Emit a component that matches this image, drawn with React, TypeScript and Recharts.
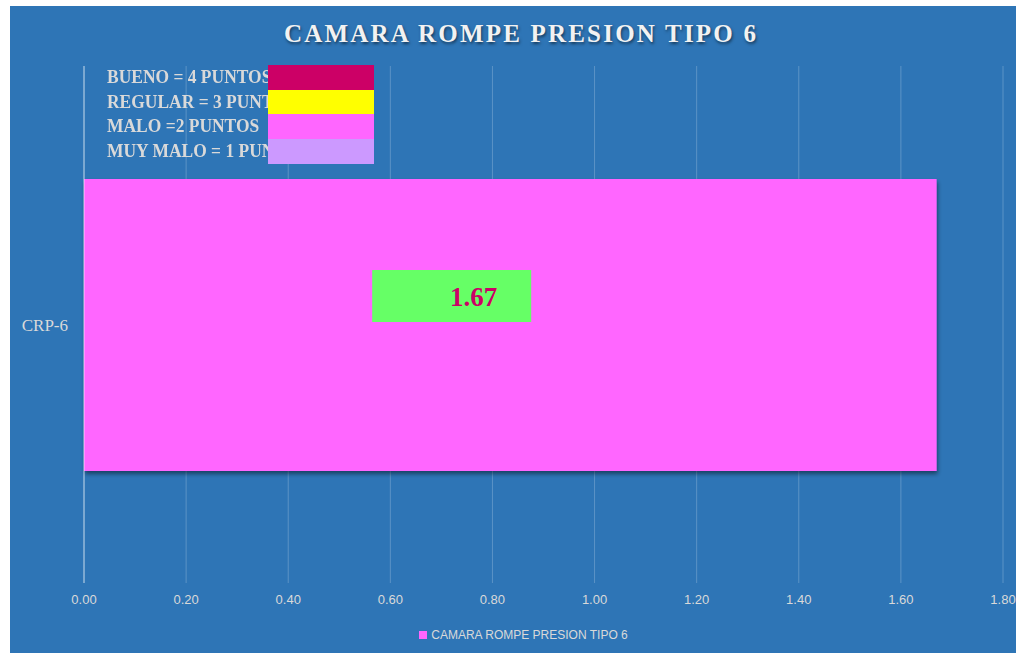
import React from "react";
import {
  BarChart,
  Bar,
  XAxis,
  YAxis,
  CartesianGrid,
  Legend,
  LabelList,
} from "recharts";

const categories = ["CRP-6"];
const seriesName = "CAMARA ROMPE PRESION TIPO 6";
const scores = [1.67];
const xTicks = [0, 0.2, 0.4, 0.6, 0.8, 1.0, 1.2, 1.4, 1.6, 1.8];

const ratingLabels = [
  "BUENO = 4 PUNTOS",
  "REGULAR = 3 PUNTOS",
  "MALO =2 PUNTOS",
  "MUY MALO = 1 PUNTO",
];
const ratingColors = ["#CC0066", "#FFFF00", "#FF66FF", "#CC99FF"];

const data = categories.map((name, i) => ({ name, score: scores[i] }));

const BG = "#2E75B6";
const TEXT = "#D9D9D9";
const BAR = "#FF66FF";

// green data label box, placed inside the bar left of centre
const ScoreLabel = (props: any) => {
  const { x, y, width, height, value } = props;
  const boxW = 159;
  const boxH = 52;
  const bx = x + width * 0.338;
  const by = y + height / 2 - 29 - boxH / 2;
  return (
    <g>
      <rect x={bx} y={by} width={boxW} height={boxH} fill="#66FF66" />
      <text
        x={x + width * 0.457}
        y={by + boxH / 2 + 1}
        textAnchor="middle"
        dominantBaseline="central"
        fontFamily="'Liberation Serif', 'Times New Roman', serif"
        fontWeight="bold"
        fontSize={27}
        fill="#CC0066"
      >
        {Number(value).toFixed(2)}
      </text>
    </g>
  );
};

const ShadowBar = (props: any) => {
  const { x, y, width, height, fill } = props;
  return (
    <rect x={x} y={y} width={width} height={height} fill={fill} filter="url(#barShadow)" />
  );
};

const BottomLegend = () => (
  <div
    style={{
      display: "flex",
      justifyContent: "center",
      alignItems: "center",
      fontFamily: "'Liberation Sans', Arial, sans-serif",
      fontSize: 12,
      color: TEXT,
      paddingLeft: 34,
      paddingTop: 5,
    }}
  >
    <span
      style={{ width: 8, height: 8, background: BAR, display: "inline-block", marginRight: 4 }}
    />
    {seriesName}
  </div>
);

export default function App() {
  return (
    <div
      style={{
        position: "absolute",
        left: 0,
        top: 0,
        width: 1016,
        height: 653,
        background: "#ffffff",
      }}
    >
      <div
        style={{
          position: "absolute",
          left: 10,
          top: 6,
          width: 1006,
          height: 647,
          background: BG,
        }}
      >
        <BarChart
          width={1006}
          height={647}
          data={data}
          layout="vertical"
          margin={{ top: 60, right: 13, bottom: 8, left: 0 }}
          barCategoryGap={112}
        >
          <defs>
            <filter id="barShadow" x="-5%" y="-5%" width="110%" height="115%">
              <feDropShadow dx="1" dy="3" stdDeviation="2" floodColor="#000" floodOpacity="0.45" />
            </filter>
          </defs>
          <CartesianGrid
            horizontal={false}
            stroke="rgba(255,255,255,0.22)"
            strokeWidth={1}
          />
          <XAxis
            type="number"
            domain={[0, 1.8]}
            ticks={xTicks}
            tickFormatter={(v: number) => v.toFixed(2)}
            axisLine={false}
            tickLine={false}
            tickMargin={6}
            height={32}
            interval={0}
            tick={{
              fill: TEXT,
              fontSize: 13,
              fontFamily: "'Liberation Sans', Arial, sans-serif",
            }}
          />
          <YAxis
            type="category"
            dataKey="name"
            width={74}
            axisLine={{ stroke: "rgba(255,255,255,0.6)" }}
            tickLine={false}
            tickMargin={10}
            tick={{
              fill: TEXT,
              fontSize: 17,
              fontFamily: "'Liberation Serif', 'Times New Roman', serif",
            }}
          />
          <Legend
            verticalAlign="bottom"
            wrapperStyle={{ height: 30, lineHeight: "30px" }}
            content={<BottomLegend />}
          />
          <Bar
            dataKey="score"
            name={seriesName}
            fill={BAR}
            barSize={292}
            shape={<ShadowBar />}
            isAnimationActive={false}
          >
            <LabelList dataKey="score" content={<ScoreLabel />} />
          </Bar>
        </BarChart>

        <div
          style={{
            position: "absolute",
            left: 0,
            top: 14,
            width: 1022,
            textAlign: "center",
            fontFamily: "'Liberation Serif', 'Times New Roman', serif",
            fontWeight: "bold",
            fontSize: 25,
            letterSpacing: 2.2,
            color: "#F2F2F2",
            textShadow: "1px 2px 3px rgba(0,0,0,0.5)",
            lineHeight: "28px",
          }}
        >
          {seriesName}
        </div>

        {ratingLabels.map((label, i) => (
          <div
            key={label}
            style={{
              position: "absolute",
              left: 97,
              top: 59 + i * 24.5,
              height: 24,
              lineHeight: "24px",
              fontFamily: "'Liberation Serif', 'Times New Roman', serif",
              fontWeight: "bold",
              fontSize: 18,
              color: TEXT,
              whiteSpace: "nowrap",
              transform: "scaleX(0.97)",
              transformOrigin: "left center",
            }}
          >
            {label}
          </div>
        ))}
        {ratingColors.map((c, i) => (
          <div
            key={c}
            style={{
              position: "absolute",
              left: 258,
              top: 59 + i * 24.5,
              width: 106,
              height: 25,
              background: c,
            }}
          />
        ))}
      </div>
    </div>
  );
}
